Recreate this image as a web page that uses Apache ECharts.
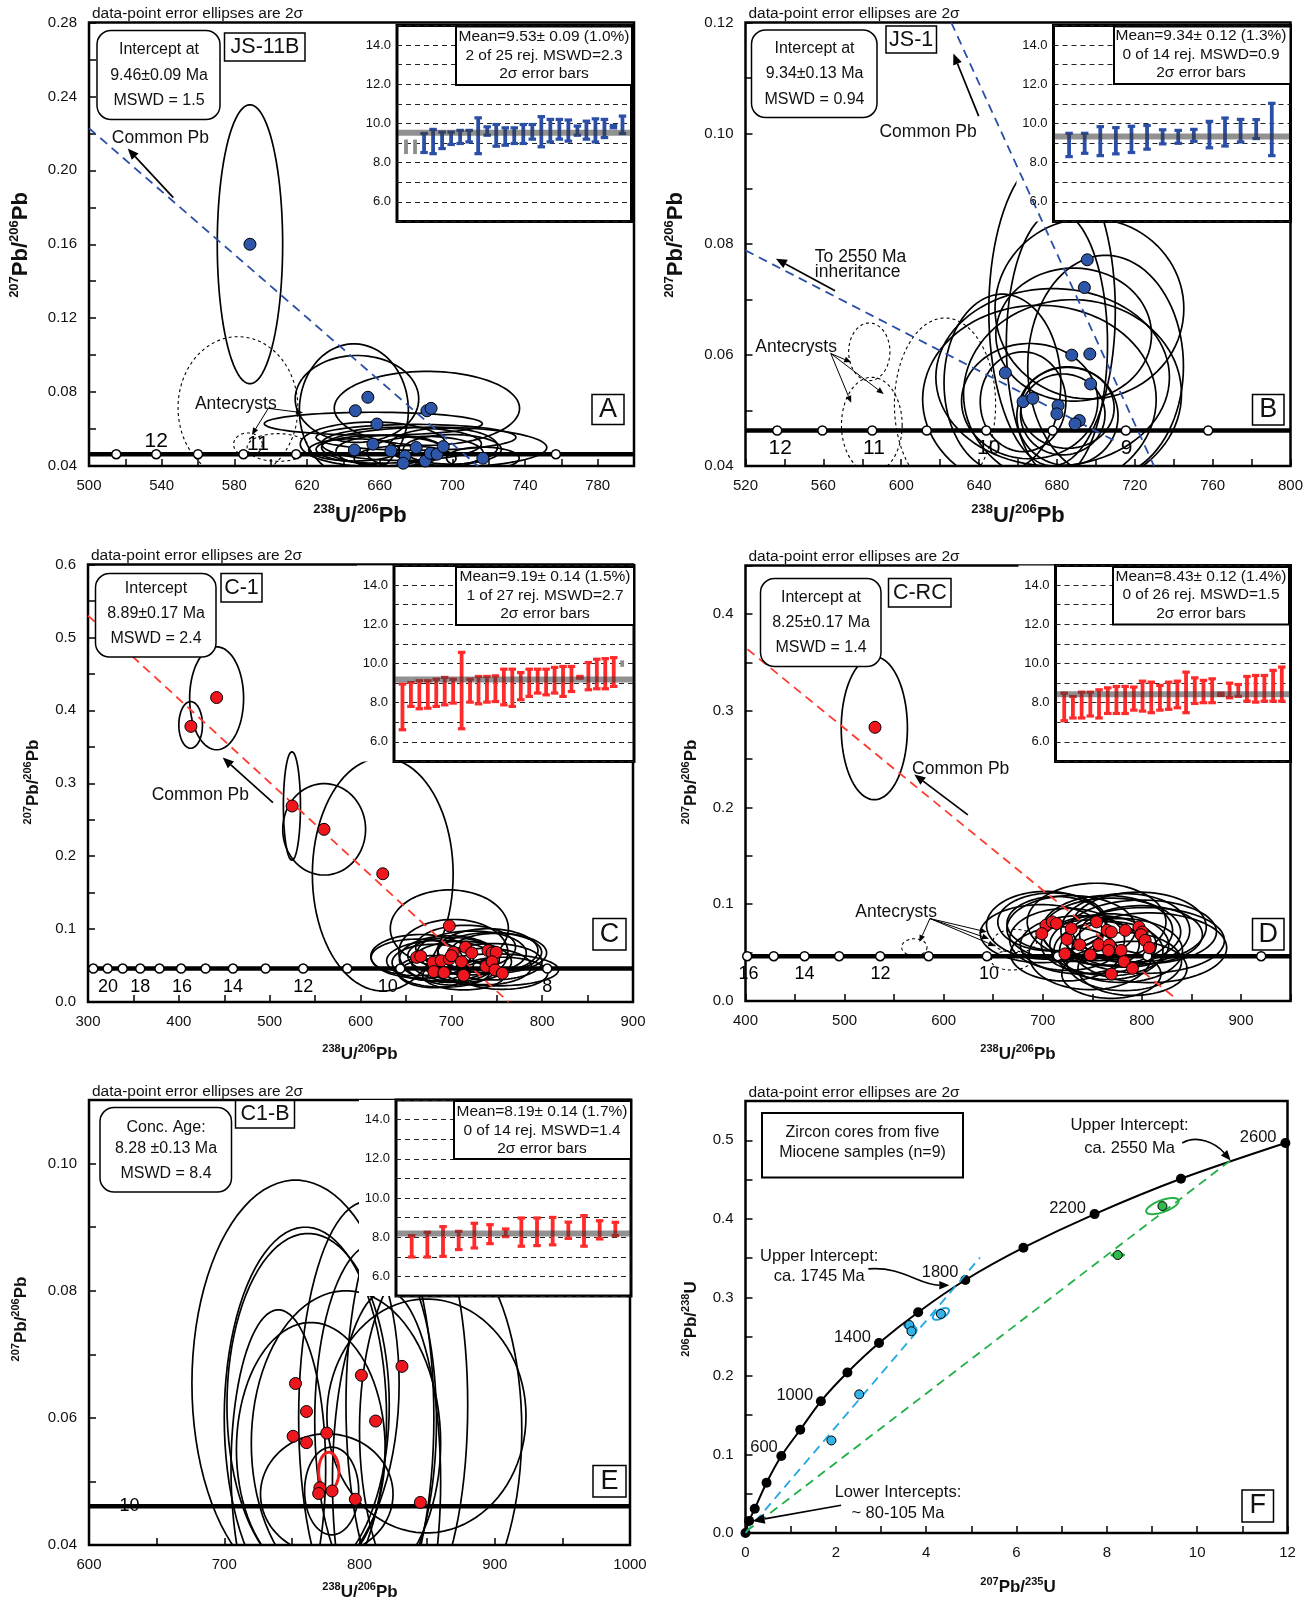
<!DOCTYPE html>
<html><head><meta charset="utf-8">
<script src="https://cdn.jsdelivr.net/npm/echarts@6/dist/echarts.min.js"></script>
<style>html,body{margin:0;padding:0;background:#fff}#c{width:1311px;height:1604px}</style>
</head><body><div id="c"></div>
<script>
// ================= DATA =================
// ---- Panel A (JS-11B): Tera-Wasserburg [238U/206Pb, 207Pb/206Pb]
const dotsA = [[588.6,0.160],[653.5,0.0772],[646.6,0.0699],[686.0,0.0699],[688.3,0.0712],[658.5,0.0627],[646.1,0.0487],[656.3,0.0518],[666.2,0.0482],[674.0,0.0454],[673.0,0.0415],[680.1,0.0500],[685.1,0.0427],[687.9,0.0469],[691.6,0.0464],[695.0,0.0505],[716.8,0.0442]];
const ellA = [[588.6,0.160,18,0.0755],[645.8,0.0701,30,0.036],[647.5,0.0763,34,0.0235],[686.0,0.0712,51,0.0200],[656.5,0.0629,60,0.0062],[690,0.0500,62,0.0110],[680,0.0555,55,0.0070],[672,0.0520,44,0.0090],[660,0.0490,35,0.0075],[646,0.0487,25,0.0060],[666,0.0482,30,0.0085],[685,0.0470,32,0.0090],[700,0.0490,27,0.0080],[716.8,0.0442,20,0.0060],[674,0.0440,28,0.0070],[695,0.0505,30,0.0100],[656.3,0.0518,40,0.0120]];
const antA = [[582,0.0715,33,0.0385],[587.5,0.0517,7.9,0.0062],[604,0.0500,17,0.0075]];
const discA = [[500,0.2228],[714,0.040]];
const concYA = 0.0464;
const concA = [515,537,560,585,614,757];
const ageA = [['12',537,0.0536],['11',593,0.0517],['10',642.5,0.033],['9',717.6,0.0345]];
const insetA = [[8.44,9.18],[8.44,9.18],[8.50,9.52],[8.44,9.73],[8.70,9.59],[8.91,9.59],[8.96,9.68],[9.04,9.68],[8.44,10.32],[9.38,9.86],[8.82,9.98],[8.87,9.81],[8.96,9.81],[8.96,9.98],[9.18,9.98],[8.79,10.38],[9.04,10.24],[9.18,10.24],[9.08,10.21],[9.38,9.90],[9.18,10.15],[9.04,10.27],[9.26,10.24],[9.76,9.93],[9.47,10.41]];
const rejA = [1,2];
const meanA = 9.53;

// ---- Panel B (JS-1)
const dotsB = [[695.6,0.0772],[694.1,0.0722],[687.6,0.0600],[696.9,0.0602],[653.5,0.0568],[697.3,0.0548],[662.6,0.0516],[667.6,0.0522],[680.6,0.0509],[680.0,0.0494],[691.5,0.0482],[689.3,0.0476]];
const ellB = [[696.7,0.0684,48.5,0.0163],[688.6,0.0637,40,0.0120],[677.8,0.0560,60,0.0160],[671,0.0520,60,0.0170],[688,0.0530,56,0.0170],[677.5,0.0680,32.5,0.0280],[680,0.0620,26,0.0240],[685.4,0.0490,26,0.0089],[683,0.0493,21.7,0.0073],[666,0.0517,35,0.0104],[685.4,0.0505,24,0.0073],[652,0.0550,30,0.0160],[705,0.0580,40,0.0200],[662.6,0.0516,22,0.0090]];
const antB = [[583.6,0.0606,10.6,0.0052],[584.9,0.0474,15.6,0.0086],[622.5,0.0511,26,0.0156]];
const discB1 = [[625.7,0.12],[729.9,0.04]];
const discB2 = [[520,0.0789],[710,0.0445]];
const concYB = 0.0464;
const concB = [536.3,559.5,585.1,613.1,643.7,677.8,715.4,757.7];
const ageB = [['12',537.8,0.0432],['11',586,0.0432],['10',645,0.0432],['9',715.8,0.0432]];
const insetB = [[8.29,9.53],[8.46,9.53],[8.34,9.87],[8.43,9.82],[8.50,9.89],[8.67,9.93],[8.94,9.71],[8.97,9.68],[9.07,9.73],[8.74,10.14],[8.83,10.31],[9.04,10.24],[9.21,10.23],[8.34,11.06]];
const rejB = [];
const meanB = 9.34;

// ---- Panel C (C-1)
const dotsC = [[413.3,0.378],[441.6,0.4175],[524.7,0.2688],[559.8,0.2368],[624.5,0.1759],[697.8,0.1044],[661.8,0.0612],[666.3,0.0626],[679.8,0.0542],[680.7,0.0417],[688.8,0.0566],[691.9,0.0403],[697.8,0.0589],[702.2,0.0682],[700.0,0.0635],[711.2,0.0552],[713.5,0.0366],[715.7,0.0752],[722.5,0.0673],[738.2,0.0487],[740.4,0.0705],[744.9,0.0673],[749.4,0.0682],[744.9,0.0552],[748.1,0.0440],[756.2,0.0394]];
const ellC = [[413,0.380,13,0.032],[441.6,0.4165,29.7,0.0706],[524.5,0.2688,9.4,0.0743],[560,0.2368,45.6,0.0627],[624.5,0.175,77.5,0.160],[697.8,0.1007,65,0.053],[661.8,0.0612,50,0.025],[666.3,0.0626,55,0.030],[679.8,0.0542,45,0.025],[680.7,0.0417,40,0.022],[688.8,0.0566,60,0.028],[691.9,0.0403,50,0.020],[697.8,0.0589,55,0.032],[702.2,0.0682,60,0.045],[700,0.0635,48,0.025],[711.2,0.0552,55,0.028],[713.5,0.0366,45,0.020],[715.7,0.0752,55,0.030],[722.5,0.0673,60,0.030],[738.2,0.0487,50,0.025],[740.4,0.0705,55,0.030],[744.9,0.0673,60,0.028],[749.4,0.0682,50,0.026],[744.9,0.0552,55,0.025],[748.1,0.0440,70,0.022],[756.2,0.0394,50,0.022]];
const discC = [[300,0.530],[763,0.0]];
const concYC = 0.0459;
const concC = [305.8,321.6,338.2,357.5,378.7,402.5,429.4,459.6,495.5,536.9,585.4,643.8,805.6];
const ageC = [['20',322,0.0204],['18',357.5,0.0204],['16',403.4,0.0204],['14',459.6,0.0204],['12',536.9,0.0204],['10',630,0.0204],['8',805.6,0.0204]];
const insetC = [[6.60,8.98],[7.79,9.06],[7.67,9.15],[7.70,9.15],[7.79,9.23],[7.87,9.32],[7.96,9.23],[6.65,10.60],[8.01,9.23],[7.92,9.37],[8.01,9.37],[8.04,9.40],[7.87,9.74],[7.79,9.74],[8.13,9.57],[8.30,9.74],[8.47,9.74],[8.38,9.74],[8.47,9.83],[8.30,9.88],[8.55,9.88],[9.23,9.37],[8.64,10.08],[8.69,10.25],[8.69,10.28],[8.81,10.33],[9.83,10.16]];
const rejC = [27];
const meanC = 9.19;

// ---- Panel D (C-RC)
const dotsD = [[530.7,0.2828],[703.2,0.0783],[709.6,0.0817],[713.9,0.0800],[699.0,0.0696],[724.5,0.0637],[722.4,0.0487],[728.8,0.0748],[737.3,0.0581],[748.0,0.0477],[754.3,0.0817],[756.5,0.0581],[765.0,0.0730],[767.1,0.0581],[769.2,0.0713],[766.3,0.0522],[769.2,0.0278],[779.0,0.0522],[783.3,0.0730],[782.0,0.0407],[790.5,0.0337],[797.0,0.0765],[800.3,0.0713],[799.1,0.0685],[803.3,0.0626],[807.6,0.0550]];
const ellD = [[530,0.2819,33.4,0.0739],[703.2,0.0783,60,0.035],[709.6,0.0817,55,0.030],[713.9,0.0800,50,0.028],[699.0,0.0696,62,0.030],[724.5,0.0637,58,0.032],[722.4,0.0487,55,0.028],[728.8,0.0748,65,0.034],[737.3,0.0581,60,0.030],[748.0,0.0477,62,0.036],[754.3,0.0817,70,0.040],[756.5,0.0581,58,0.030],[765.0,0.0730,66,0.036],[767.1,0.0581,60,0.032],[769.2,0.0713,70,0.035],[766.3,0.0522,55,0.030],[769.2,0.0278,50,0.025],[779.0,0.0522,62,0.033],[783.3,0.0730,65,0.038],[782.0,0.0407,58,0.030],[790.5,0.0337,55,0.028],[797.0,0.0765,68,0.036],[800.3,0.0713,75,0.033],[799.1,0.0685,62,0.030],[803.3,0.0626,80,0.034],[807.6,0.0550,78,0.036]];
const antD = [[570.4,0.0556,12.8,0.0087],[672,0.0620,22,0.012],[668,0.0420,20,0.010]];
const discD = [[402,0.3635],[833,0.0035]];
const concYD = 0.0463;
const concD = [401.7,428.5,459.6,494.5,535.9,584.8,643.6,715.2,805.5,920.4];
const ageD = [['16',403,0.0278],['14',459.6,0.0278],['12',536.3,0.0278],['10',645.7,0.0278]];
const insetD = [[7.06,8.52],[7.20,8.35],[7.20,8.57],[7.30,8.57],[7.20,8.69],[7.43,8.79],[7.43,8.86],[7.43,8.86],[7.60,8.83],[7.55,9.13],[7.47,9.08],[7.60,8.91],[7.64,9.08],[7.72,9.13],[7.47,9.59],[7.94,9.30],[7.98,9.17],[7.98,9.25],[8.35,8.52],[8.23,9.03],[8.30,8.96],[8.06,9.37],[8.01,9.42],[8.06,9.42],[8.06,9.68],[8.06,9.85]];
const rejD = [];
const meanD = 8.43;

// ---- Panel E (C1-B)
const dotsE = [[752.7,0.0654],[760.8,0.0610],[750.9,0.0571],[760.8,0.0561],[775.8,0.0576],[801.4,0.0667],[831.4,0.0681],[811.9,0.0595],[770.7,0.0490],[769.8,0.0481],[779.7,0.0485],[796.9,0.0472],[845.0,0.0467]];
const ellE = [[752.7,0.0654,76.6,0.032],[762,0.0620,60,0.027],[805,0.0600,50,0.034],[835,0.0620,45,0.033],[860,0.0580,60,0.030],[849.5,0.0603,73.6,0.0184],[764,0.0550,55,0.020],[775.8,0.0480,49,0.0095],[779.4,0.0485,20,0.0069],[760,0.0600,60,0.030],[790,0.0560,70,0.024],[811.9,0.0595,45,0.028],[740,0.0520,35,0.025],[820,0.0500,40,0.030]];
const redE = [[777.3,0.0516,7.5,0.0030]];
const concYE = 0.0461;
const ageE = [['10',630,0.0461]];
const insetE = [[6.97,8.11],[6.97,8.28],[7.00,8.57],[7.35,8.33],[7.43,8.74],[7.65,8.67],[8.01,8.45],[7.52,9.01],[7.55,9.01],[7.59,9.04],[7.92,8.80],[7.52,9.13],[7.89,8.87],[8.06,8.79]];
const rejE = [];
const meanE = 8.19;

// ---- Panel F: Wetherill concordia [207Pb/235U, 206Pb/238U]
const concF = [[0,0],[0.08,0.0154],[0.205,0.0309],[0.466,0.064],[0.793,0.098],[1.212,0.1315],[1.669,0.1677],[2.256,0.2043],[2.956,0.2418],[3.823,0.2811],[4.867,0.3221],[6.153,0.3632],[7.729,0.406],[9.641,0.451],[11.953,0.4965]];
const blueF = [[1.902,0.1178],[2.517,0.1765],[3.627,0.2648],[3.674,0.2568],[4.326,0.2789]];
const greenF = [[8.242,0.3539],[9.231,0.4162]];
const blueEllF = [[4.326,0.2789,0.2,0.0055,-30],[3.65,0.262,0.07,0.009,-60],[1.902,0.1178,0.05,0.003,0],[2.517,0.1765,0.06,0.003,0]];
const greenEllF = [[9.231,0.4162,0.38,0.0075,-20],[8.242,0.3539,0.14,0.0015,0]];
const discF1 = [[0,0],[5.193,0.3508]];
const discF2 = [[0.02,0.0022],[10.74,0.4744]];

// ================= LAYOUT =================
const FONT = '"Liberation Sans", Arial, Helvetica, sans-serif';
const r = v => Math.round(v * 1000) / 1000;
const mains = [
  {g:{left:89, top:22.5, width:545, height:443.5}, xr:[500,800,20], yr:[0.04,0.28,0.04], xm:0, ym:2,
   xf:v=>(Math.round(v-500)%40===0?String(Math.round(v)):''), yf:v=>r(v).toFixed(2)},
  {g:{left:745.5, top:22.5, width:545, height:443.5}, xr:[520,800,40], yr:[0.04,0.12,0.02], xm:2, ym:2,
   xf:v=>String(Math.round(v)), yf:v=>r(v).toFixed(2)},
  {g:{left:88, top:564.5, width:545, height:437.5}, xr:[300,900,100], yr:[0,0.6,0.1], xm:2, ym:2,
   xf:v=>String(Math.round(v)), yf:v=>r(v).toFixed(1)},
  {g:{left:745.5, top:565.5, width:545, height:435.5}, xr:[400,950,100], yr:[0,0.45,0.1], xm:2, ym:2,
   xf:v=>(v>901?'':String(Math.round(v))), yf:v=>(v>0.41?'':r(v).toFixed(1))},
  {g:{left:89, top:1100, width:541, height:445}, xr:[600,1000,100], yr:[0.04,0.11,0.02], xm:2, ym:2,
   xf:v=>String(Math.round(v)), yf:v=>(v>0.105?'':r(v).toFixed(2))},
  {g:{left:745.5, top:1101, width:542, height:432}, xr:[0,12,2], yr:[0,0.55,0.1], xm:2, ym:2,
   xf:v=>String(Math.round(v)), yf:v=>(v>0.51?'':r(v).toFixed(1))}
];
const insets = [
  {g:{left:397, top:25.5, width:234.5, height:196}, xmax:26},
  {g:{left:1053.5, top:25.5, width:237, height:196}, xmax:15.2},
  {g:{left:394, top:565.5, width:240, height:196}, xmax:28.4},
  {g:{left:1055.5, top:565.5, width:235, height:196}, xmax:27},
  {g:{left:396, top:1100, width:235, height:196}, xmax:15}
];

const grids = [], xAxes = [], yAxes = [];
mains.forEach((m) => {
  grids.push(Object.assign({show:true, borderColor:'#000', borderWidth:2.5, backgroundColor:'transparent'}, m.g));
  const tick = {show:true, inside:true, length:7, lineStyle:{color:'#000', width:1.5}};
  const lab = {color:'#111', fontSize:15, fontFamily:FONT};
  xAxes.push({gridIndex:grids.length-1, type:'value', min:m.xr[0], max:m.xr[1], interval:m.xr[2],
    axisLine:{show:false}, axisTick:tick, splitLine:{show:false},
    minorTick:{show:m.xm>0, splitNumber:m.xm||2, length:7, lineStyle:{color:'#000', width:1.5}},
    axisLabel:Object.assign({margin:12, formatter:m.xf, showMaxLabel:true, showMinLabel:true}, lab)});
  yAxes.push({gridIndex:grids.length-1, type:'value', min:m.yr[0], max:m.yr[1], interval:m.yr[2],
    axisLine:{show:false}, axisTick:tick, splitLine:{show:false},
    minorTick:{show:m.ym>0, splitNumber:m.ym||2, length:7, lineStyle:{color:'#000', width:1.5}},
    axisLabel:Object.assign({margin:12, formatter:m.yf, showMaxLabel:true, showMinLabel:true}, lab)});
});
insets.forEach((s) => {
  grids.push(Object.assign({show:true, borderColor:'#000', borderWidth:3, backgroundColor:'#fff', z:10}, s.g));
  xAxes.push({gridIndex:grids.length-1, type:'value', min:0, max:s.xmax, show:false, z:11});
  yAxes.push({gridIndex:grids.length-1, type:'value', min:5, max:15, interval:1, z:11,
    axisLine:{show:false}, axisTick:{show:false},
    splitLine:{show:true, lineStyle:{color:'#222', type:[5,4], width:1}},
    axisLabel:{color:'#111', fontSize:13, fontFamily:FONT, margin:6,
      formatter:v=>{const k=Math.round(v); return (k%2===0 && k>=6 && k<=14)?k.toFixed(1):'';}}});
});

// ================= SERIES =================
const series = [];
function ellRender(stroke, width, dash) {
  return function (params, api) {
    const c = api.coord([api.value(0), api.value(1)]);
    const s = api.size([api.value(2), api.value(3)]);
    let a = api.value(4); if (isNaN(a)) a = 0; a = a * Math.PI / 180;
    const pts = [];
    for (let k = 0; k < 90; k++) {
      const t = k / 90 * 2 * Math.PI;
      const ex = s[0] * Math.cos(t), ey = s[1] * Math.sin(t);
      pts.push([c[0] + ex * Math.cos(a) - ey * Math.sin(a), c[1] + ex * Math.sin(a) + ey * Math.cos(a)]);
    }
    const cs = params.coordSys;
    return {type:'polygon', shape:{points:pts}, silent:true,
      style:{fill:'none', stroke:stroke, lineWidth:width, lineDash:dash || null},
      clipPath:{type:'rect', shape:{x:cs.x, y:cs.y, width:cs.width, height:cs.height}}};
  };
}
function addEll(gi, data, stroke, width, dash, z) {
  series.push({type:'custom', xAxisIndex:gi, yAxisIndex:gi, z:z || 2, silent:true,
    data:data.map(d => d.length === 5 ? d : d.concat([0])), renderItem:ellRender(stroke, width, dash)});
}
function addDots(gi, data, color, border, size) {
  series.push({type:'scatter', xAxisIndex:gi, yAxisIndex:gi, z:7, silent:true, data:data,
    symbolSize:size || 12, itemStyle:{color:color, borderColor:border || '#000', borderWidth:1, opacity:1}});
}
function addDash(gi, data, color, width) {
  series.push({type:'line', xAxisIndex:gi, yAxisIndex:gi, z:6, silent:true, data:data, symbol:'none',
    lineStyle:{color:color, width:width || 1.8, type:[9,6]}});
}
function addConc(gi, y, xs, m) {
  series.push({type:'line', xAxisIndex:gi, yAxisIndex:gi, z:4, silent:true, symbol:'none',
    data:[[m.xr[0], y], [m.xr[1], y]], lineStyle:{color:'#000', width:4.5}});
  if (xs.length) series.push({type:'scatter', xAxisIndex:gi, yAxisIndex:gi, z:5, silent:true,
    data:xs.map(x => [x, y]), symbolSize:9, itemStyle:{color:'#fff', borderColor:'#000', borderWidth:1.5, opacity:1}});
}
function addAges(gi, data, size) {
  series.push({type:'scatter', xAxisIndex:gi, yAxisIndex:gi, z:8, silent:true,
    data:data.map(d => [d[1], d[2], d[0]]), symbolSize:1, itemStyle:{color:'rgba(0,0,0,0)', opacity:1},
    label:{show:true, position:'inside', formatter:p => p.data[2], color:'#000', opacity:1, fontSize:size, fontFamily:FONT}});
}
function barRender(color, caps) {
  return function (params, api) {
    const lo = api.coord([api.value(0), api.value(1)]);
    const hi = api.coord([api.value(0), api.value(2)]);
    const w = 3.8, cw = 7.5, ch = 3.2;
    const ch0 = [{type:'rect', shape:{x:lo[0] - w / 2, y:hi[1], width:w, height:Math.max(lo[1] - hi[1], 2)}, style:{fill:color}}];
    if (caps) {
      ch0.push({type:'rect', shape:{x:lo[0] - cw / 2, y:hi[1] - 1, width:cw, height:ch}, style:{fill:color}});
      ch0.push({type:'rect', shape:{x:lo[0] - cw / 2, y:lo[1] - 2, width:cw, height:ch}, style:{fill:color}});
    }
    return {type:'group', children:ch0};
  };
}
function bandRender(params, api) {
  const p = api.coord([0, api.value(1)]);
  const cs = params.coordSys;
  return {type:'rect', shape:{x:cs.x + 1, y:p[1] - 3, width:cs.width - 2, height:6}, style:{fill:'rgba(55,55,55,0.55)'}};
}
function addInset(gi, bars, rej, mean, color) {
  const good = [], bad = [];
  bars.forEach((b, i) => { (rej.indexOf(i + 1) >= 0 ? bad : good).push([i + 1, b[0], b[1]]); });
  series.push({type:'custom', xAxisIndex:gi, yAxisIndex:gi, z:12, silent:true, data:good, renderItem:barRender(color, true)});
  if (bad.length) series.push({type:'custom', xAxisIndex:gi, yAxisIndex:gi, z:12, silent:true, data:bad, renderItem:barRender('#8d8d8d', false)});
  series.push({type:'custom', xAxisIndex:gi, yAxisIndex:gi, z:13, silent:true, data:[[0, mean]], renderItem:bandRender});
}

const BLUE = '#2d56a8', BLUED = '#2b4fa6', RED = '#f0161e', REDD = '#ff3b30';
const EW = 1.7;
// A
addEll(0, ellA, '#000', EW); addEll(0, antA, '#000', 1.1, [3, 3]);
addConc(0, concYA, concA, mains[0]); addDash(0, discA, BLUED); addDots(0, dotsA, BLUE); addAges(0, ageA, 21);
// B
addEll(1, ellB, '#000', EW); addEll(1, antB, '#000', 1.1, [3, 3]);
addConc(1, concYB, concB, mains[1]); addDash(1, discB1, BLUED); addDash(1, discB2, BLUED); addDots(1, dotsB, BLUE); addAges(1, ageB, 21);
// C
addEll(2, ellC, '#000', EW);
addConc(2, concYC, concC, mains[2]); addDash(2, discC, REDD); addDots(2, dotsC, RED); addAges(2, ageC, 18);
// D
addEll(3, ellD, '#000', EW); addEll(3, antD, '#000', 1.1, [3, 3]);
addConc(3, concYD, concD, mains[3]); addDash(3, discD, REDD); addDots(3, dotsD, RED); addAges(3, ageD, 18);
// E
addEll(4, ellE, '#000', EW); addEll(4, redE, '#f01e1e', 3, null, 7);
addConc(4, concYE, [], mains[4]); addDots(4, dotsE, RED); addAges(4, ageE, 18);
// F
series.push({type:'line', xAxisIndex:5, yAxisIndex:5, z:5, silent:true, data:concF, smooth:0.3,
  symbol:'circle', symbolSize:10, itemStyle:{color:'#000', opacity:1}, lineStyle:{color:'#000', width:2}});
addDash(5, discF1, '#22a7e0', 1.8); addDash(5, discF2, '#22b046', 1.8);
addEll(5, blueEllF, '#1fa4e0', 2); addEll(5, greenEllF, '#22b046', 2);
addDots(5, blueF, '#36b3e6', '#000', 9); addDots(5, greenF, '#2fb84c', '#000', 9);
// insets
addInset(6, insetA, rejA, meanA, '#2b4fa6');
addInset(7, insetB, rejB, meanB, '#2b4fa6');
addInset(8, insetC, rejC, meanC, '#ff2a2a');
addInset(9, insetD, rejD, meanD, '#ff2a2a');
addInset(10, insetE, rejE, meanE, '#ff2a2a');

const chart = echarts.init(document.getElementById('c'), null, {renderer:'canvas', width:1311, height:1604});
chart.setOption({animation:false, backgroundColor:'#fff', grid:grids, xAxis:xAxes, yAxis:yAxes, series:series});

// ================= ANNOTATIONS =================
const G = [];
// white margin behind each inset's tick labels (hides the ellipses there, as in the original)
insets.forEach(s => G.push({type:'rect', z:3, silent:true,
  shape:{x:s.g.left - 37, y:s.g.top, width:37, height:s.g.height}, style:{fill:'#fff'}}));
const P = (gi, x, y) => chart.convertToPixel({gridIndex:gi}, [x, y]);
function T(x, y, s, size, opt) {
  opt = opt || {};
  G.push({type:'text', x:x, y:y, z:100, rotation:opt.rot || 0, silent:true,
    style:{text:s, fill:'#111', font:(opt.bold ? 'bold ' : '') + size + 'px ' + FONT,
      align:opt.align || 'center', verticalAlign:'middle', rich:opt.rich}});
}
function box(x, y, w, h, rr, lw) {
  G.push({type:'rect', z:99, silent:true, shape:{x:x, y:y, width:w, height:h, r:rr || 0},
    style:{fill:'#fff', stroke:'#000', lineWidth:lw || 2}});
}
function head(p, from, hl) {
  const dx = p[0] - from[0], dy = p[1] - from[1], L = Math.hypot(dx, dy), ux = dx / L, uy = dy / L;
  const hw = hl * 0.42, bx = p[0] - ux * hl, by = p[1] - uy * hl;
  G.push({type:'polygon', z:100, silent:true, shape:{points:[[p[0], p[1]], [bx - uy * hw, by + ux * hw], [bx + uy * hw, by - ux * hw]]}, style:{fill:'#000'}});
  return [bx, by];
}
function arrow(p0, p1, lw, hl) {
  const b = head(p1, p0, hl || 11);
  G.push({type:'line', z:100, silent:true, shape:{x1:p0[0], y1:p0[1], x2:b[0], y2:b[1]}, style:{stroke:'#000', lineWidth:lw || 1.7}});
}
function curve(p0, c1, c2, p1) {
  const b = head(p1, c2, 10);
  G.push({type:'bezierCurve', z:100, silent:true, shape:{x1:p0[0], y1:p0[1], cpx1:c1[0], cpy1:c1[1], cpx2:c2[0], cpy2:c2[1], x2:b[0], y2:b[1]}, style:{stroke:'#000', lineWidth:1.6, fill:'none'}});
}
function title(x, y, sup1, a, sup2, b, big, small, rot) {
  T(x, y, '{s|' + sup1 + '}{b|' + a + '}{s|' + sup2 + '}{b|' + b + '}', big, {rot:rot ? Math.PI / 2 : 0,
    rich:{s:{fontSize:small, fontWeight:'bold', fontFamily:FONT, verticalAlign:'top', lineHeight:small + 2, fill:'#111'},
          b:{fontSize:big, fontWeight:'bold', fontFamily:FONT, lineHeight:big + 4, fill:'#111'}}});
}
function insetText(x, y, w, h, cx, ys, lines) {
  box(x, y, w, h, 0, 2);
  lines.forEach((s, i) => T(cx, ys[i], s, 15.5));
}
function tx(gi, x, y, s, size, align) { const t = P(gi, x, y); T(t[0], t[1], s, size, {align:align}); }

// headers
mains.forEach(m => T(m.g.left + 3, m.g.top - 8.5, 'data-point error ellipses are 2σ', 15.5, {align:'left'}));

// axis titles
title(21, 245, '207', 'Pb/', '206', 'Pb', 22, 13, true);
title(676, 245, '207', 'Pb/', '206', 'Pb', 22, 13, true);
title(33, 782, '207', 'Pb/', '206', 'Pb', 17, 11, true);
title(691, 782, '207', 'Pb/', '206', 'Pb', 17, 11, true);
title(21, 1319, '207', 'Pb/', '206', 'Pb', 17, 11, true);
title(691, 1319, '206', 'Pb/', '238', 'U', 17, 11, true);
title(360, 516, '238', 'U/', '206', 'Pb', 22, 13, false);
title(1018, 516, '238', 'U/', '206', 'Pb', 22, 13, false);
title(360, 1054, '238', 'U/', '206', 'Pb', 17, 11, false);
title(1018, 1054, '238', 'U/', '206', 'Pb', 17, 11, false);
title(360, 1592, '238', 'U/', '206', 'Pb', 17, 11, false);
title(1018, 1587, '207', 'Pb/', '235', 'U', 17, 11, false);

// Panel A
box(97, 30.5, 123, 89, 14, 1.5);
T(159, 50, 'Intercept at', 16); T(159, 75.3, '9.46±0.09 Ma', 16); T(159, 100.5, 'MSWD = 1.5', 16);
box(224.5, 33, 80.5, 28, 0, 1.5); T(265, 47.5, 'JS-11B', 21.5);
box(592, 394.5, 32, 30, 0, 1.5); T(608, 410, 'A', 27);
insetText(456, 26.5, 176, 58.5, 544, [37, 55.5, 74], ['Mean=9.53± 0.09 (1.0%)', '2 of 25 rej. MSWD=2.3', '2σ error bars']);
tx(0, 539.3, 0.2173, 'Common Pb', 17.5);
arrow(P(0, 546.4, 0.1852), P(0, 521.3, 0.2118));
tx(0, 580.8, 0.0735, 'Antecrysts', 17.5);
arrow(P(0, 598.7, 0.0712), P(0, 617.8, 0.0688), 1, 7);
arrow(P(0, 598.7, 0.0712), P(0, 589.7, 0.0569), 1, 7);

// Panel B
box(751.5, 30, 125.5, 87.5, 14, 1.5);
T(814.5, 48.5, 'Intercept at', 16); T(814.5, 74, '9.34±0.13 Ma', 16); T(814.5, 100, 'MSWD = 0.94', 16);
box(886, 26, 50.5, 27, 0, 1.5); T(911.2, 40, 'JS-1', 21.5);
box(1252.5, 394.5, 31.5, 30.5, 0, 1.5); T(1268.2, 410, 'B', 27);
insetText(1114, 26.5, 176.5, 57.5, 1201, [36, 54.5, 73], ['Mean=9.34± 0.12 (1.3%)', '0 of 14 rej. MSWD=0.9', '2σ error bars']);
tx(1, 613.8, 0.1003, 'Common Pb', 17.5);
arrow(P(1, 639.8, 0.1031), P(1, 626.8, 0.1144));
tx(1, 555.6, 0.0777, 'To 2550 Ma', 17.5, 'left');
tx(1, 555.6, 0.0750, 'inheritance', 17.5, 'left');
arrow(P(1, 566, 0.0716), P(1, 535.6, 0.0774));
tx(1, 546, 0.0615, 'Antecrysts', 17.5);
arrow(P(1, 563.8, 0.0603), P(1, 574.3, 0.0587), 1, 7);
arrow(P(1, 563.8, 0.0603), P(1, 591, 0.0530), 1, 7);
arrow(P(1, 563.8, 0.0603), P(1, 574.3, 0.0514), 1, 7);

// Panel C
box(95.5, 573.5, 120.5, 83.5, 14, 1.5);
T(156, 589, 'Intercept', 16); T(156, 614, '8.89±0.17 Ma', 16); T(156, 638.5, 'MSWD = 2.4', 16);
box(221, 573.5, 41, 28.5, 0, 1.5); T(241.5, 588, 'C-1', 21.5);
box(593, 918.5, 33, 31.5, 0, 1.5); T(609.5, 934.5, 'C', 27);
insetText(456, 567, 178, 58, 545, [576.5, 595.5, 614], ['Mean=9.19± 0.14 (1.5%)', '1 of 27 rej. MSWD=2.7', '2σ error bars']);
tx(2, 423.6, 0.2842, 'Common Pb', 17.5);
arrow(P(2, 503.6, 0.2735), P(2, 448.3, 0.3353));

// Panel D
box(760.5, 578.5, 120.5, 88, 14, 1.5);
T(821, 598, 'Intercept at', 16); T(821, 622.5, '8.25±0.17 Ma', 16); T(821, 647.5, 'MSWD = 1.4', 16);
box(888.5, 578.5, 62.5, 28.5, 0, 1.5); T(919.8, 593, 'C-RC', 21.5);
box(1252.5, 918.5, 31.5, 31.5, 0, 1.5); T(1268.2, 934.5, 'D', 27);
insetText(1113, 567, 176, 57.5, 1201, [577, 595, 613.5], ['Mean=8.43± 0.12 (1.4%)', '0 of 26 rej. MSWD=1.5', '2σ error bars']);
tx(3, 617.2, 0.240, 'Common Pb', 17.5);
arrow(P(3, 624.4, 0.1923), P(3, 570.4, 0.234));
tx(3, 552, 0.0922, 'Antecrysts', 17.5);
arrow(P(3, 586.1, 0.0852), P(3, 575.5, 0.0609), 1, 7);
arrow(P(3, 586.1, 0.0852), P(3, 643.6, 0.0713), 1, 7);
arrow(P(3, 586.1, 0.0852), P(3, 645.7, 0.0643), 1, 7);
arrow(P(3, 586.1, 0.0852), P(3, 652.1, 0.0567), 1, 7);

// Panel E
box(100, 1107.5, 131.5, 84.5, 14, 1.5);
T(166, 1127.5, 'Conc. Age:', 16); T(166, 1149, '8.28 ±0.13 Ma', 16); T(166, 1174, 'MSWD = 8.4', 16);
box(235.5, 1100.5, 59, 27.5, 0, 1.5); T(265, 1114.5, 'C1-B', 21.5);
box(593, 1465.5, 33, 31.5, 0, 1.5); T(609.5, 1481.5, 'E', 27);
insetText(454, 1101, 177, 58, 542, [1112, 1130.5, 1148.5], ['Mean=8.19± 0.14 (1.7%)', '0 of 14 rej. MSWD=1.4', '2σ error bars']);

// Panel F
box(762, 1113, 201, 64.5, 0, 2);
T(862.5, 1132.5, 'Zircon cores from five', 16); T(862.5, 1153, 'Miocene samples (n=9)', 16);
box(1242, 1490, 31.5, 32, 0, 1.5); T(1257.8, 1506, 'F', 27);
[['Upper Intercept:', 8.503, 0.5185], ['ca. 2550 Ma', 8.503, 0.4899], ['2600', 11.35, 0.503], ['2200', 7.13, 0.4126],
 ['Upper Intercept:', 1.632, 0.3522], ['ca. 1745 Ma', 1.632, 0.3266], ['1800', 4.308, 0.3323], ['1400', 2.368, 0.2493],
 ['1000', 1.091, 0.1752], ['600', 0.41, 0.109], ['Lower Intercepts:', 3.375, 0.0516], ['~ 80-105 Ma', 3.375, 0.0252]
].forEach(a => tx(5, a[1], a[2], a[0], 16.5));
curve(P(5, 2.72, 0.3363), P(5, 3.47, 0.3398), P(5, 3.84, 0.3155), P(5, 4.513, 0.3155));
curve(P(5, 9.67, 0.4965), P(5, 10.0, 0.5075), P(5, 10.41, 0.4965), P(5, 10.74, 0.4744));
arrow(P(5, 2.117, 0.0353), P(5, 0.159, 0.0154), 1.7, 12);

chart.setOption({graphic:G});
</script>
</body></html>
